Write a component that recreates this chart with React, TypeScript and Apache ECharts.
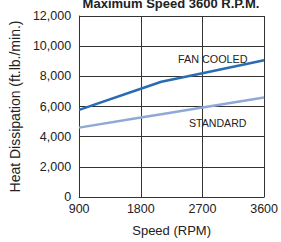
import React, { useEffect, useRef } from "react";
import * as echarts from "echarts";

const speeds = [900, 1800, 2100, 2700, 3600];
const fanCooled = [5780, 7180, 7640, 8200, 9060];
const standard = [4600, 5270, 5490, 5930, 6600];
const xTicks = [900, 1800, 2700, 3600];

export default function App() {
  const ref = useRef<HTMLDivElement>(null);
  useEffect(() => {
    document.body.style.margin = "0";
    const chart = echarts.init(ref.current!, null, { renderer: "svg" });
    const font = "Liberation Sans, Arial, sans-serif";
    chart.setOption({
      animation: false,
      title: {
        text: "Maximum Speed 3600 R.P.M.",
        left: 166,
        textAlign: "center",
        top: -8,
        textStyle: { fontFamily: font, fontSize: 13, fontWeight: "bold", color: "#222" },
      },
      grid: { left: 79, right: 15, top: 16, bottom: 39 },
      xAxis: {
        type: "value",
        min: 900,
        max: 3600,
        interval: 900,
        name: "Speed (RPM)",
        nameLocation: "middle",
        nameGap: 27,
        nameTextStyle: { fontFamily: font, fontSize: 13, color: "#222" },
        axisLine: { lineStyle: { color: "#333", width: 1 } },
        axisTick: { show: false },
        axisLabel: {
          fontFamily: font,
          fontSize: 12.5,
          color: "#222",
          margin: 5,
          formatter: (v: number) => (xTicks.includes(v) ? String(v) : ""),
        },
        splitLine: { show: true, lineStyle: { color: "#333", width: 1 } },
      },
      yAxis: {
        type: "value",
        min: 0,
        max: 12000,
        interval: 2000,
        name: "Heat Dissipation (ft.lb./min.)",
        nameLocation: "middle",
        nameGap: 57,
        nameTextStyle: { fontFamily: font, fontSize: 14, color: "#222" },
        axisLine: { show: true, lineStyle: { color: "#333", width: 1 } },
        axisTick: { show: false },
        axisLabel: {
          fontFamily: font,
          fontSize: 12.5,
          color: "#222",
          margin: 8,
          formatter: (v: number) => v.toLocaleString("en-US"),
        },
        splitLine: { show: true, lineStyle: { color: "#333", width: 1 } },
      },
      series: [
        {
          name: "FAN COOLED",
          type: "line",
          data: speeds.map((s, i) => [s, fanCooled[i]]),
          showSymbol: false,
          lineStyle: { color: "#2a6cb3", width: 2.5 },
          z: 3,
        },
        {
          name: "STANDARD",
          type: "line",
          data: speeds.map((s, i) => [s, standard[i]]),
          showSymbol: false,
          lineStyle: { color: "#8ea9d8", width: 2.5 },
          z: 3,
        },
      ],
      graphic: [
        {
          type: "text",
          left: 178,
          top: 53,
          style: { text: "FAN COOLED", fontFamily: font, fontSize: 10.8, fill: "#222" },
        },
        {
          type: "text",
          left: 189,
          top: 117,
          style: { text: "STANDARD", fontFamily: font, fontSize: 10.6, fill: "#222" },
        },
      ],
    });
    return () => chart.dispose();
  }, []);
  return <div ref={ref} style={{ width: 281, height: 242 }} />;
}
